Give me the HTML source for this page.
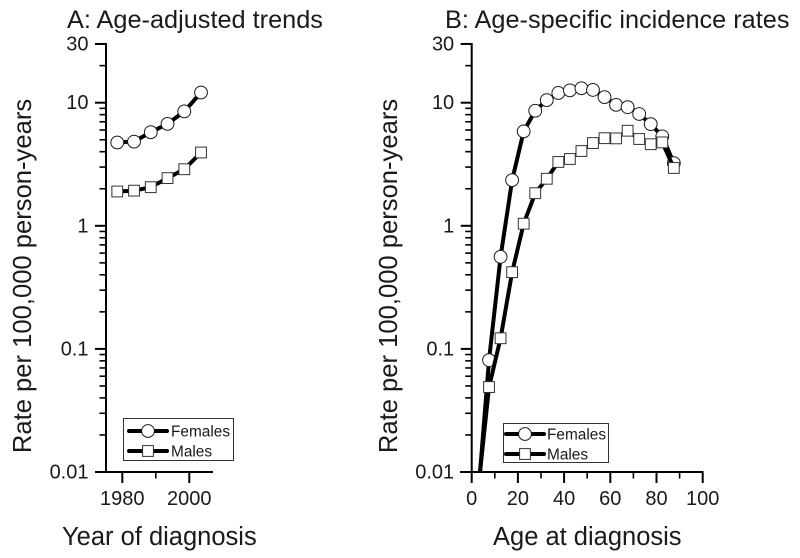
<!DOCTYPE html>
<html lang="en">
<head>
<meta charset="utf-8">
<title>Age-adjusted trends and age-specific incidence rates</title>
<style>
html,body{margin:0;padding:0;background:#fff;}
svg{display:block;font-family:"Liberation Sans",Arial,sans-serif;fill:#1a1a1a;}
</style>
</head>
<body>
<svg id="chart" width="800" height="558" viewBox="0 0 800 558" xmlns="http://www.w3.org/2000/svg"></svg>
<script>
// Panel A data
const yearsA = [1978.5, 1983.5, 1988.5, 1993.5, 1998.5, 2003.5];
const femalesA = [4.75, 4.83, 5.76, 6.73, 8.5, 12.1];
const malesA = [1.9, 1.93, 2.06, 2.44, 2.88, 3.94];
const xMajorTicksA = [1980, 2000];
const xMinorTicksA = [1990];
// Panel B data
const agesB = [7.5, 12.5, 17.5, 22.5, 27.5, 32.5, 37.5, 42.5, 47.5, 52.5, 57.5, 62.5, 67.5, 72.5, 77.5, 82.5, 87.5];
const femalesB = [0.081, 0.56, 2.35, 5.85, 8.6, 10.5, 12, 12.6, 13.1, 12.7, 11.1, 9.6, 9.2, 8.1, 6.7, 5.33, 3.23];
const malesB = [0.049, 0.122, 0.42, 1.04, 1.84, 2.41, 3.3, 3.49, 4.05, 4.7, 5.15, 5.13, 5.92, 5.07, 4.6, 4.76, 2.95];
const lineStartAgeB = [3.6];
const lineStartRateB = [0.01];
const xMajorTicksB = [0, 20, 40, 60, 80, 100];
const xMinorTicksB = [10, 30, 50, 70, 90];
// Shared y axis
const yMajorTicks = [0.01, 0.1, 1, 10, 30];
const yTickLabels = ['0.01', '0.1', '1', '10', '30'];
const yMinorTicks = [0.02, 0.03, 0.04, 0.05, 0.06, 0.07, 0.08, 0.09, 0.2, 0.3, 0.4, 0.5, 0.6, 0.7, 0.8, 0.9, 2, 3, 4, 5, 6, 7, 8, 9, 20];
const legendLabels = ['Females', 'Males'];

const svg = document.getElementById('chart');
const NS = 'http://www.w3.org/2000/svg';
const INK = '#000';

function make(tag, attrs, parent, text) {
  const el = document.createElementNS(NS, tag);
  for (const k in attrs) el.setAttribute(k, attrs[k]);
  if (text !== undefined) el.textContent = text;
  (parent || svg).appendChild(el);
  return el;
}
function yScale(v) { return 472 - (Math.log10(v) + 2) * 123.1; }
function xScaleA(v) { return 122.3 + (v - 1980) * 3.35; }
function xScaleB(v) { return 471.7 + v * 2.31; }

function drawAxes(panel, axisX, xLeft, xRight, xScale, majors, minors, labelBaseline) {
  const g = make('g', {}, svg);
  
  

  const yLine = make('line', {x1: axisX, x2: axisX, y1: yScale(30) - 1, y2: yScale(0.01) + 1, stroke: INK, 'stroke-width': 2}, g);
  
  

  const xLine = make('line', {x1: xLeft, x2: xRight, y1: yScale(0.01), y2: yScale(0.01), stroke: INK, 'stroke-width': 2}, g);
  
  

  yMajorTicks.forEach(function (v, i) {
    const y = yScale(v);
    const t = make('line', {x1: axisX - 11, x2: axisX, y1: y, y2: y, stroke: INK, 'stroke-width': 2}, g);
    
    
    const l = make('text', {x: axisX - 17.5, y: y + 6.5, 'text-anchor': 'end', 'font-size': 20}, g, yTickLabels[i]);
    
    
  });
  yMinorTicks.forEach(function (v) {
    const y = yScale(v);
    const t = make('line', {x1: axisX - 6.5, x2: axisX, y1: y, y2: y, stroke: INK, 'stroke-width': 1.6}, g);
    
    
  });
  majors.forEach(function (v) {
    const x = xScale(v);
    const t = make('line', {x1: x, x2: x, y1: yScale(0.01), y2: yScale(0.01) + 11, stroke: INK, 'stroke-width': 2}, g);
    
    
    const l = make('text', {x: x, y: labelBaseline, 'text-anchor': 'middle', 'font-size': 20}, g, String(v));
    
    
  });
  minors.forEach(function (v) {
    const x = xScale(v);
    const t = make('line', {x1: x, x2: x, y1: yScale(0.01), y2: yScale(0.01) + 6.5, stroke: INK, 'stroke-width': 1.6}, g);
    
    
  });
}

function drawCircle(parent, cx, cy, name) {
  const c = make('circle', {cx: cx, cy: cy, r: 6.4, fill: '#fff', stroke: '#1a1a1a', 'stroke-width': 1}, parent);
  
  
}
function drawSquare(parent, cx, cy, name) {
  const r = make('rect', {x: cx - 5.4, y: cy - 5.4, width: 10.8, height: 10.8, fill: '#fff', stroke: '#333', 'stroke-width': 1}, parent);
  
  
}

function drawSeries(panel, seriesName, xs, ys, xScale, marker, startX, startY) {
  const g = make('g', {}, svg);
  
  
  let pts = xs.map(function (x, i) { return xScale(x).toFixed(2) + ',' + yScale(ys[i]).toFixed(2); });
  if (startX !== undefined) pts = [xScale(startX).toFixed(2) + ',' + yScale(startY).toFixed(2)].concat(pts);
  const line = make('polyline', {points: pts.join(' '), fill: 'none', stroke: INK, 'stroke-width': 4, 'stroke-linejoin': 'round'}, g);
  
  
  xs.forEach(function (x, i) {
    marker(g, xScale(x), yScale(ys[i]), panel + '-' + seriesName + '-point');
  });
}

function drawLegend(panel, x, y, w, h, lineX1, lineX2, row1, row2, textX) {
  const g = make('g', {}, svg);
  
  
  const box = make('rect', {x: x, y: y, width: w, height: h, fill: '#fff', stroke: '#333', 'stroke-width': 1}, g);
  
  
  [row1, row2].forEach(function (ry, i) {
    const line = make('line', {x1: lineX1, x2: lineX2, y1: ry, y2: ry, stroke: INK, 'stroke-width': 4, 'stroke-linecap': 'round'}, g);
    
    
    (i === 0 ? drawCircle : drawSquare)(g, (lineX1 + lineX2) / 2, ry, panel + '-legend-marker');
    const label = make('text', {x: textX, y: ry + 5.5, 'font-size': 15.4}, g, legendLabels[i]);
    
    
  });
}

function drawText(name, content, attrs) {
  const t = make('text', attrs, svg, content);
  
  
}

// Panel A
drawAxes('panel-a', 106, 95, 213, xScaleA, xMajorTicksA, xMinorTicksA, 505);
drawSeries('panel-a', 'females', yearsA, femalesA, xScaleA, drawCircle);
drawSeries('panel-a', 'males', yearsA, malesA, xScaleA, drawSquare);
drawLegend('panel-a', 123.5, 418.5, 110, 42, 129, 167, 431, 451, 171);

// Panel B
drawAxes('panel-b', 471.7, 460, 703.5, xScaleB, xMajorTicksB, xMinorTicksB, 505);
drawSeries('panel-b', 'females', agesB, femalesB, xScaleB, drawCircle, lineStartAgeB[0], lineStartRateB[0]);
drawSeries('panel-b', 'males', agesB, malesB, xScaleB, drawSquare, lineStartAgeB[0], lineStartRateB[0]);
drawLegend('panel-b', 503.5, 423.5, 105, 39, 506, 544, 434, 454, 547);

// Titles
drawText('panel-a-title', 'A: Age-adjusted trends', {x: 67, y: 28, 'font-size': 25.3});
drawText('panel-b-title', 'B: Age-specific incidence rates', {x: 445, y: 28, 'font-size': 25.3});
drawText('panel-a-x-axis-title', 'Year of diagnosis', {x: 62, y: 545, 'font-size': 25.5});
drawText('panel-b-x-axis-title', 'Age at diagnosis', {x: 493, y: 545, 'font-size': 25.5});
drawText('panel-a-y-axis-title', 'Rate per 100,000 person-years', {x: 0, y: 0, 'font-size': 25.6, 'text-anchor': 'middle', transform: 'translate(31,276) rotate(-90)'});
drawText('panel-b-y-axis-title', 'Rate per 100,000 person-years', {x: 0, y: 0, 'font-size': 25.6, 'text-anchor': 'middle', transform: 'translate(397,276) rotate(-90)'});
</script>
</body>
</html>
